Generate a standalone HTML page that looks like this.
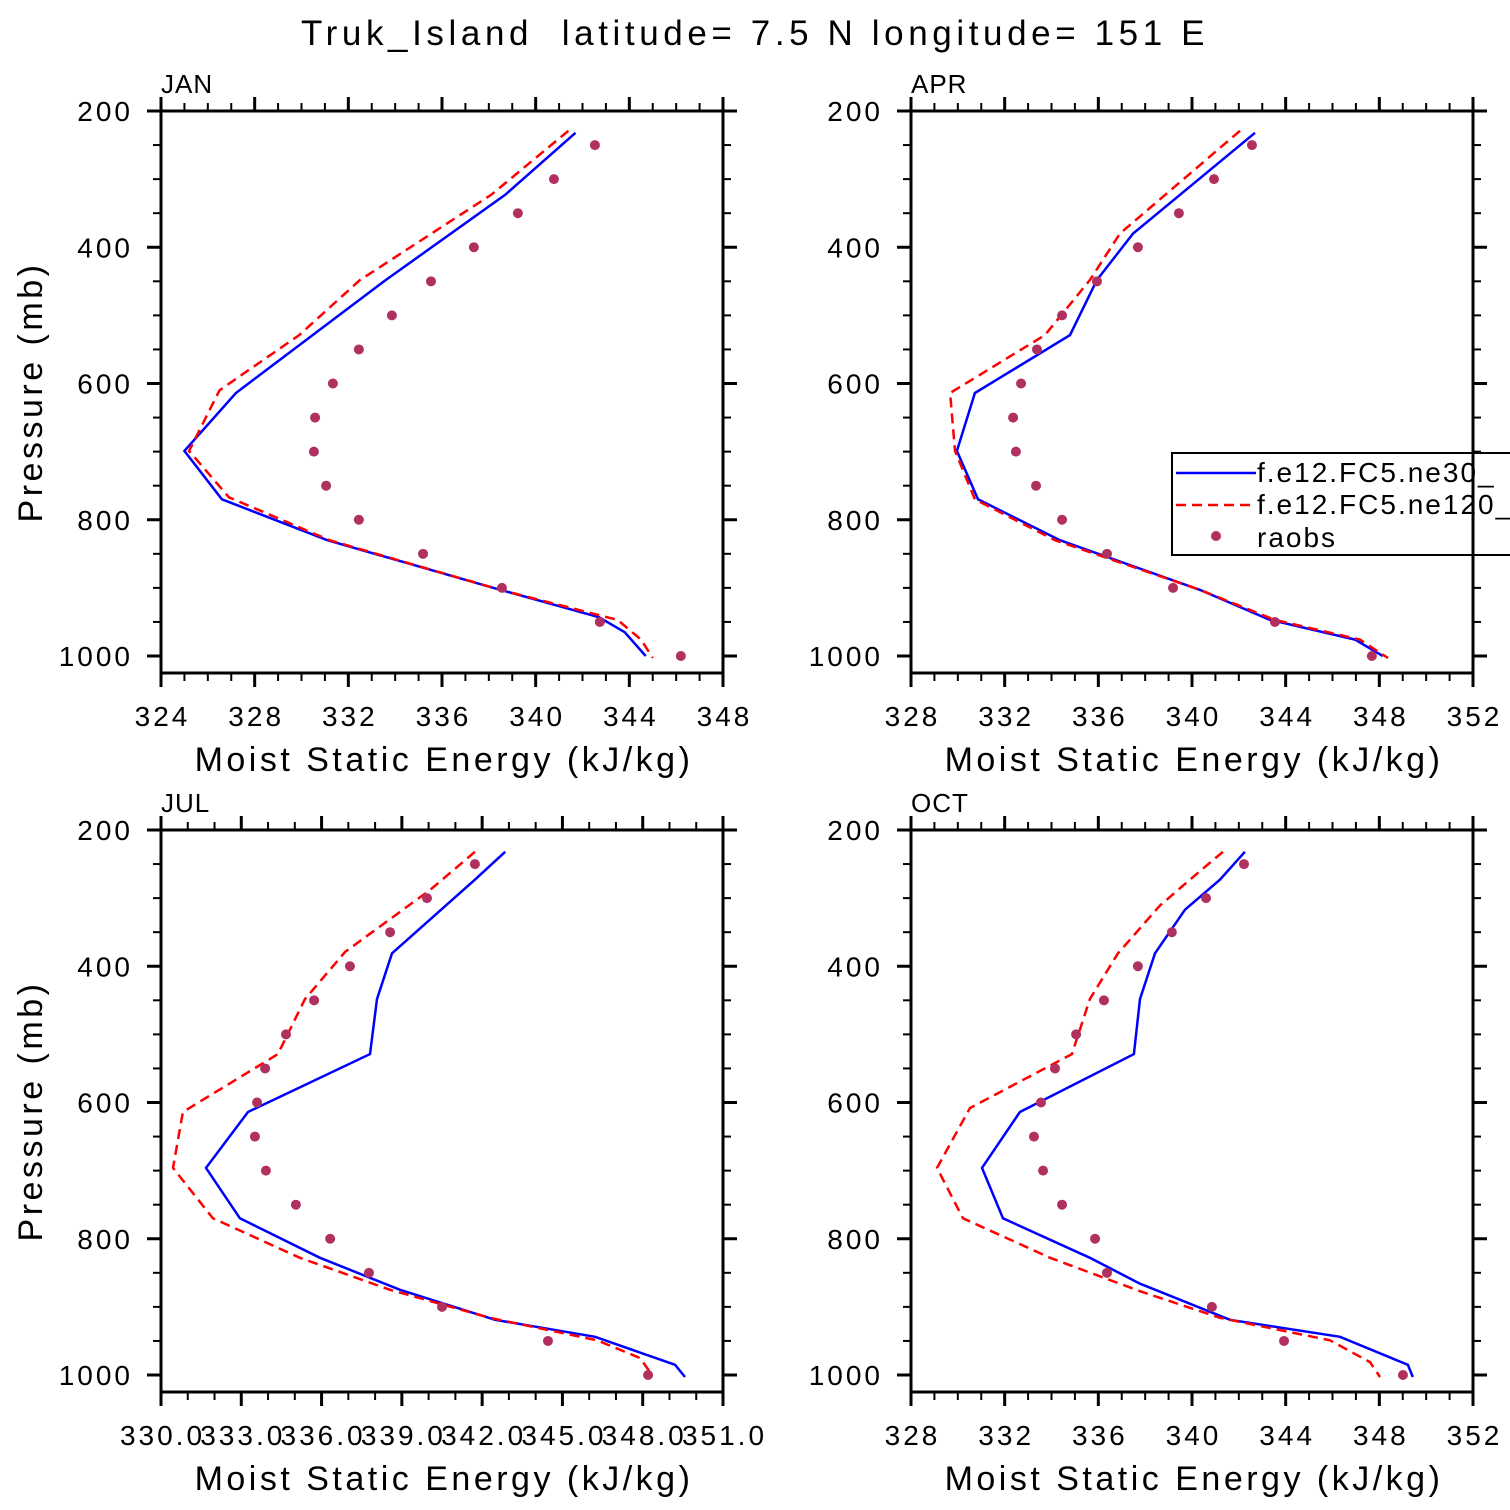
<!DOCTYPE html>
<html><head><meta charset="utf-8"><style>
html,body{margin:0;padding:0;background:#fff}
svg{display:block}
text{font-family:"Liberation Sans","DejaVu Sans",sans-serif;fill:#000;white-space:pre}
</style></head><body>
<svg id="c" width="1510" height="1510" viewBox="0 0 1510 1510" xmlns="http://www.w3.org/2000/svg">
<text x="755" y="45" text-anchor="middle" font-size="35" letter-spacing="4.6" xml:space="preserve">Truk_Island  latitude= 7.5 N longitude= 151 E</text>
</svg>
<script>
// JAN
const janBlueP=[232,323,448,614,699,770,830,903,943,965,1000];
const janBlueV=[341.7,338.7,333.6,327.2,325.0,326.6,331.1,338.5,342.7,343.8,344.7];
const janRedP=[229,323,448,529,610,699,767,830,903,947,976,1003];
const janRedV=[341.4,338.1,332.5,329.9,326.5,325.2,326.9,331.2,338.5,343.5,344.5,345.0];
const obsP=[250,300,350,400,450,500,550,600,650,700,750,800,850,900,950,1000];
const janObs=[342.53,340.78,339.24,337.36,335.53,333.86,332.45,331.34,330.58,330.53,331.05,332.45,335.19,338.56,342.74,346.2];
// APR
const aprBlueP=[232,380,448,529,614,699,770,830,903,947,976,1000];
const aprBlueV=[342.69,337.48,335.94,334.79,330.73,329.96,330.86,334.36,340.34,343.33,346.96,348.15];
const aprRedP=[229,380,448,529,614,699,770,830,903,947,976,1003];
const aprRedV=[342.05,336.92,335.64,333.72,329.67,329.88,330.73,334.15,340.34,343.54,347.17,348.37];
const aprObs=[342.56,340.94,339.44,337.69,335.94,334.45,333.38,332.70,332.36,332.48,333.34,334.45,336.37,339.19,343.54,347.68];
// JUL
const julBlueP=[232,273,381,448,529,614,696,770,828,875,919,944,985,1003];
const julBlueV=[342.86,341.73,338.63,338.07,337.81,333.25,331.68,332.95,335.94,338.93,342.48,346.22,349.21,349.58];
const julRedP=[232,288,379,448,529,614,696,770,828,875,916,949,975,1000];
const julRedV=[341.73,340.05,336.88,335.38,334.37,330.82,330.45,331.94,335.19,338.56,342.29,346.29,347.90,348.35];
const julObs=[341.73,339.94,338.56,337.06,335.72,334.67,333.89,333.59,333.51,333.92,335.04,336.32,337.77,340.50,344.46,348.20];
// OCT
const octBlueP=[232,273,317,381,448,529,614,696,770,828,866,919,944,985,1003];
const octBlueV=[342.26,341.19,339.70,338.42,337.78,337.52,332.65,331.03,331.93,335.64,337.78,341.62,346.32,349.22,349.43];
const octRedP=[232,273,311,381,448,529,608,696,770,828,877,916,949,981,1003];
const octRedV=[341.32,339.91,338.63,336.84,335.64,334.87,330.52,329.11,330.22,333.94,337.78,341.19,345.89,347.60,348.03];
const octObs=[342.22,340.60,339.14,337.69,336.24,335.05,334.15,333.55,333.25,333.64,334.45,335.86,336.37,340.85,343.93,349.01];
const yTicks=[200,400,600,800,1000];

const NS='http://www.w3.org/2000/svg';
const svg=document.getElementById('c');
function mk(tag,attrs,parent){const e=document.createElementNS(NS,tag);for(const k in attrs)e.setAttribute(k,attrs[k]);(parent||svg).appendChild(e);return e;}

const panels=[
 {name:'jan',label:'JAN',x0:161,x1:723,y0:111,y1:673,xmin:324,xmax:348,xmaj:4,xmin_:1,dec:0,bp:janBlueP,bv:janBlueV,rp:janRedP,rv:janRedV,ov:janObs,yl:true},
 {name:'apr',label:'APR',x0:911,x1:1473,y0:111,y1:673,xmin:328,xmax:352,xmaj:4,xmin_:1,dec:0,bp:aprBlueP,bv:aprBlueV,rp:aprRedP,rv:aprRedV,ov:aprObs,yl:false,legend:true},
 {name:'jul',label:'JUL',x0:161,x1:723,y0:830,y1:1392,xmin:330,xmax:351,xmaj:3,xmin_:1,dec:1,bp:julBlueP,bv:julBlueV,rp:julRedP,rv:julRedV,ov:julObs,yl:true},
 {name:'oct',label:'OCT',x0:911,x1:1473,y0:830,y1:1392,xmin:328,xmax:352,xmaj:4,xmin_:1,dec:0,bp:octBlueP,bv:octBlueV,rp:octRedP,rv:octRedV,ov:octObs,yl:false}
];
const PX=0.68125;
panels.forEach(P=>{
  const g=mk('g',{});
  
  
  const sx=v=>P.x0+(v-P.xmin)*(P.x1-P.x0)/(P.xmax-P.xmin);
  const sy=p=>P.y0+(p-200)*PX;
  const pmax=200+(P.y1-P.y0)/PX;
  const t=mk('text',{x:P.x0,y:P.y0-18,'font-size':26,'letter-spacing':1},g);t.textContent=P.label;
  
  
  for(let p=200;p<=pmax;p+=50){
    const maj=p%200===0;const L=maj?14:8;const y=sy(p);
    mk('line',{x1:P.x0-L,y1:y,x2:P.x0,y2:y,stroke:'#000','stroke-width':maj?3:2},g);
    mk('line',{x1:P.x1,y1:y,x2:P.x1+L,y2:y,stroke:'#000','stroke-width':maj?3:2},g);
  }
  yTicks.forEach(p=>{const tt=mk('text',{x:P.x0-28,y:sy(p)+10,'font-size':28,'letter-spacing':3,'text-anchor':'end'},g);tt.textContent=p;
    
    });
  for(let v=P.xmin;v<=P.xmax+1e-9;v+=P.xmin_){
    const maj=Math.abs((v-P.xmin)%P.xmaj)<1e-9;const L=maj?14:8;const x=sx(v);
    mk('line',{x1:x,y1:P.y1,x2:x,y2:P.y1+L,stroke:'#000','stroke-width':maj?3:2},g);
    mk('line',{x1:x,y1:P.y0-L,x2:x,y2:P.y0,stroke:'#000','stroke-width':maj?3:2},g);
    if(maj){const tt=mk('text',{x:x+1.5,y:P.y1+53,'font-size':28,'letter-spacing':3,'text-anchor':'middle'},g);tt.textContent=v.toFixed(P.dec);
      
      }
  }
  const xt=mk('text',{x:(P.x0+P.x1)/2+2,y:P.y1+98,'font-size':34,'text-anchor':'middle','letter-spacing':'3.5'},g);
  xt.textContent='Moist Static Energy (kJ/kg)';
  
  
  if(P.yl){const yt=mk('text',{x:0,y:0,'font-size':34,'text-anchor':'middle','letter-spacing':'3.5',transform:`translate(42,${(P.y0+P.y1)/2}) rotate(-90)`},g);
    yt.textContent='Pressure (mb)';
    
    }
  const pts=(ps,vs)=>ps.map((p,i)=>sx(vs[i]).toFixed(1)+','+sy(p).toFixed(1)).join(' ');
  const bl=mk('polyline',{points:pts(P.bp,P.bv),fill:'none',stroke:'#0000ff','stroke-width':2.5},g);
  
  
  const rl=mk('polyline',{points:pts(P.rp,P.rv),fill:'none',stroke:'#ff0000','stroke-width':2.5,'stroke-dasharray':'10,6'},g);
  
  
  P.ov.forEach((v,i)=>{const c=mk('circle',{cx:sx(v),cy:sy(obsP[i]),r:5,fill:'#b03060'},g);
    
    });
  if(P.legend){
    const lg=mk('g',{},g);
    
    
    mk('rect',{x:1172,y:453,width:360,height:102,fill:'#fff',stroke:'#000','stroke-width':2},lg);
    mk('line',{x1:1176,y1:473,x2:1256,y2:473,stroke:'#0000ff','stroke-width':2.5},lg);
    mk('line',{x1:1176,y1:505,x2:1256,y2:505,stroke:'#ff0000','stroke-width':2.5,'stroke-dasharray':'10,6'},lg);
    mk('circle',{cx:1216,cy:536,r:5,fill:'#b03060'},lg);
    [['f.e12.FC5.ne30_',482],['f.e12.FC5.ne120_',514],['raobs',547]].forEach(([s,y])=>{const tt=mk('text',{x:1257,y:y,'font-size':28,'letter-spacing':2},lg);tt.textContent=s;
      
      });
  }
  mk('rect',{x:P.x0,y:P.y0,width:P.x1-P.x0,height:P.y1-P.y0,fill:'none',stroke:'#000','stroke-width':3},g);
});
</script>
</body></html>
